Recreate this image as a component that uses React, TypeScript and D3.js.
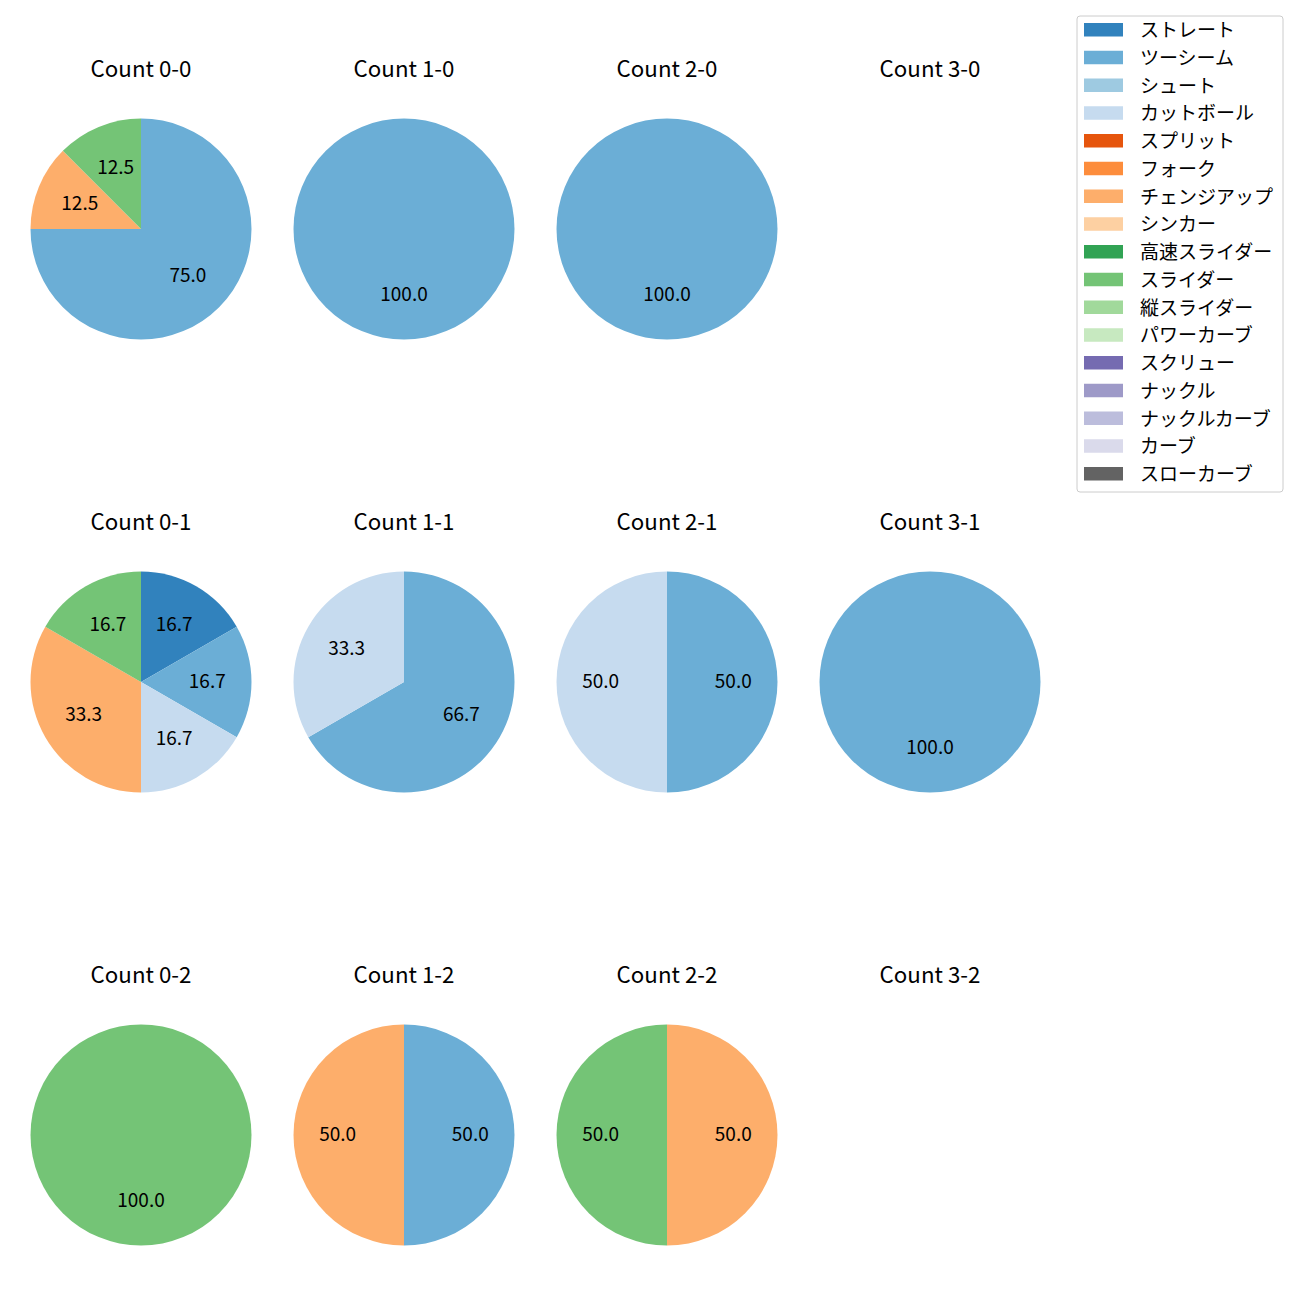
import React from "react";
import * as d3 from "d3";

const categories = [
  "ストレート", "ツーシーム", "シュート", "カットボール", "スプリット", "フォーク",
  "チェンジアップ", "シンカー", "高速スライダー", "スライダー", "縦スライダー",
  "パワーカーブ", "スクリュー", "ナックル", "ナックルカーブ", "カーブ", "スローカーブ",
];
const colors = [
  "#3182bd", "#6baed6", "#9ecae1", "#c6dbef", "#e6550d", "#fd8d3c", "#fdae6b", "#fdd0a2",
  "#31a354", "#74c476", "#a1d99b", "#c7e9c0", "#756bb1", "#9e9ac8", "#bcbddc", "#dadaeb", "#636363",
];

// counts per pitch type (index aligned with categories)
const balls = [0, 1, 2, 3];
const strikes = [0, 1, 2];
const count00 = [0, 6, 0, 0, 0, 0, 1, 0, 0, 1, 0, 0, 0, 0, 0, 0, 0];
const count10 = [0, 2, 0, 0, 0, 0, 0, 0, 0, 0, 0, 0, 0, 0, 0, 0, 0];
const count20 = [0, 1, 0, 0, 0, 0, 0, 0, 0, 0, 0, 0, 0, 0, 0, 0, 0];
const count30 = [0, 0, 0, 0, 0, 0, 0, 0, 0, 0, 0, 0, 0, 0, 0, 0, 0];
const count01 = [1, 1, 0, 1, 0, 0, 2, 0, 0, 1, 0, 0, 0, 0, 0, 0, 0];
const count11 = [0, 2, 0, 1, 0, 0, 0, 0, 0, 0, 0, 0, 0, 0, 0, 0, 0];
const count21 = [0, 1, 0, 1, 0, 0, 0, 0, 0, 0, 0, 0, 0, 0, 0, 0, 0];
const count31 = [0, 1, 0, 0, 0, 0, 0, 0, 0, 0, 0, 0, 0, 0, 0, 0, 0];
const count02 = [0, 0, 0, 0, 0, 0, 0, 0, 0, 1, 0, 0, 0, 0, 0, 0, 0];
const count12 = [0, 1, 0, 0, 0, 0, 1, 0, 0, 0, 0, 0, 0, 0, 0, 0, 0];
const count22 = [0, 0, 0, 0, 0, 0, 1, 0, 0, 1, 0, 0, 0, 0, 0, 0, 0];
const count32 = [0, 0, 0, 0, 0, 0, 0, 0, 0, 0, 0, 0, 0, 0, 0, 0, 0];

const grid = [
  [count00, count10, count20, count30],
  [count01, count11, count21, count31],
  [count02, count12, count22, count32],
];

const FONT = "'Noto Sans CJK JP', 'Noto Sans', sans-serif";

function Pie({ data, cx, cy, r, title }: { data: number[]; cx: number; cy: number; r: number; title: string }) {
  const items = data.map((v, i) => ({ v, i })).filter((d) => d.v > 0);
  const total = d3.sum(items, (d) => d.v);
  const pie = d3.pie<{ v: number; i: number }>().sort(null).value((d) => d.v).startAngle(0).endAngle(2 * Math.PI);
  const arcs = pie(items);
  const arc = d3.arc<d3.PieArcDatum<{ v: number; i: number }>>().innerRadius(0).outerRadius(r);
  return (
    <g>
      <text x={cx} y={cy - 162} textAnchor="middle" dominantBaseline="central" fontSize={22.3} fontFamily={FONT} fill="#000">
        {title}
      </text>
      {total > 0 && (
        <g transform={`translate(${cx},${cy})`}>
          {arcs.map((a) => (
            <path key={a.data.i} d={arc(a) || ""} fill={colors[a.data.i]} />
          ))}
          {arcs.map((a) => {
            const m = (a.startAngle + a.endAngle) / 2;
            return (
              <text
                key={"t" + a.data.i}
                x={0.6 * r * Math.sin(m)}
                y={-0.6 * r * Math.cos(m) - 2.5}
                textAnchor="middle"
                dominantBaseline="central"
                fontSize={19}
                fontFamily={FONT}
                fill="#000"
              >
                {((a.data.v / total) * 100).toFixed(1)}
              </text>
            );
          })}
        </g>
      )}
    </g>
  );
}

export default function App() {
  const xs = d3.scalePoint<number>().domain(balls).range([141, 930]);
  const ys = d3.scalePoint<number>().domain(strikes).range([229, 1135]);
  const r = 110.5;
  const legX = 1077, legY = 16, legW = 206, rowH = 27.75;
  return (
    <div style={{ position: "absolute", left: 0, top: 0 }}>
      <svg width={1300} height={1300} xmlns="http://www.w3.org/2000/svg">
        <rect width={1300} height={1300} fill="#fff" />
        {strikes.map((s) =>
          balls.map((b) => (
            <Pie key={`${b}-${s}`} data={grid[s][b]} cx={xs(b)!} cy={ys(s)!} r={r} title={`Count ${b}-${s}`} />
          ))
        )}
        <rect x={legX} y={legY} width={legW} height={476} rx={3} fill="#fff" fillOpacity={0.8} stroke="#cccccc" strokeWidth={1} />
        {categories.map((c, i) => (
          <g key={c}>
            <rect x={1084} y={legY + 7 + i * rowH} width={39} height={13.5} fill={colors[i]} />
            <text x={1140} y={legY + 12.5 + i * rowH} dominantBaseline="central" fontSize={19} fontFamily={FONT} fill="#000">
              {c}
            </text>
          </g>
        ))}
      </svg>
    </div>
  );
}
